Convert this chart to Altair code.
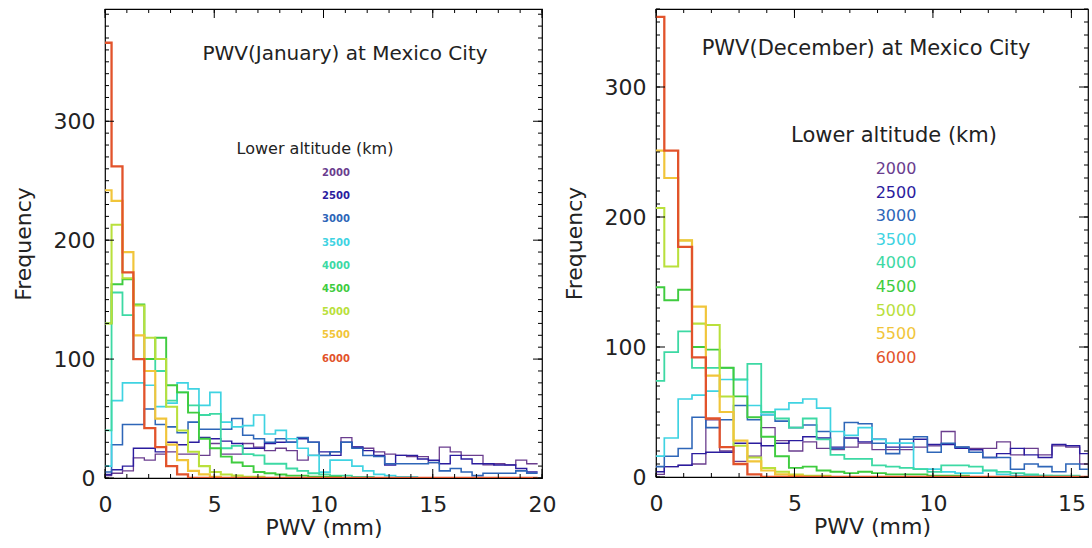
import altair as alt
import pandas as pd

# ---------------- data ----------------
altitudes = ["2000", "2500", "3000", "3500", "4000", "4500", "5000", "5500", "6000"]
colors = ["#6a3d8e", "#2b1c9e", "#2e66b8", "#3fd3e2", "#3dd9a4",
          "#3fcc3f", "#b9e03c", "#f1c53a", "#e2532b"]
widths = [1.3, 2.3, 1.7, 2.3, 1.3, 2.3, 1.3, 2.3, 1.7]

first_edge = 0.3      # first (partial) bin is [0, 0.3]
bin_width = 0.5

jan = {
    "2000": [2, 4, 6, 17, 15, 20, 22, 20, 20, 19, 29, 20, 20, 29, 26, 23, 25, 23, 15, 19,
             19, 22, 34, 26, 25, 22, 20, 19, 18, 18, 13, 26, 22, 19, 19, 11, 12, 11, 15, 12],
    "2500": [3, 7, 10, 25, 25, 22, 30, 28, 30, 34, 33, 31, 29, 25, 25, 29, 30, 30, 33, 30,
             22, 19, 30, 26, 23, 19, 11, 19, 19, 16, 15, 12, 19, 16, 12, 12, 11, 11, 8, 5],
    "3000": [5, 28, 45, 45, 58, 45, 43, 38, 47, 41, 41, 41, 50, 36, 33, 30, 33, 30, 34, 30,
             19, 22, 30, 25, 19, 18, 12, 12, 12, 12, 13, 6, 8, 5, 2, 4, 4, 4, 6, 4],
    "3500": [10, 65, 80, 80, 78, 60, 63, 80, 75, 61, 72, 47, 43, 44, 53, 37, 40, 33, 25, 19,
             5, 15, 15, 10, 6, 3, 2, 1, 1, 0, 0, 0, 0, 0, 0, 0, 0, 0, 0, 0],
    "4000": [40, 156, 137, 100, 100, 90, 65, 72, 61, 53, 54, 25, 27, 20, 19, 12, 12, 8, 6, 4,
             3, 2, 2, 1, 1, 0, 0, 0, 0, 0, 0, 0, 0, 0, 0, 0, 0, 0, 0, 0],
    "4500": [130, 163, 167, 146, 100, 118, 78, 72, 55, 33, 25, 18, 13, 10, 5, 4, 3, 2, 2, 1,
             1, 1, 0, 0, 0, 0, 0, 0, 0, 0, 0, 0, 0, 0, 0, 0, 0, 0, 0, 0],
    "5000": [130, 213, 168, 145, 118, 100, 60, 40, 22, 10, 5, 3, 2, 1, 1, 0, 0, 0, 0, 0,
             0, 0, 0, 0, 0, 0, 0, 0, 0, 0, 0, 0, 0, 0, 0, 0, 0, 0, 0, 0],
    "5500": [242, 233, 190, 120, 90, 50, 28, 15, 6, 3, 1, 0, 0, 0, 0, 0, 0, 0, 0, 0,
             0, 0, 0, 0, 0, 0, 0, 0, 0, 0, 0, 0, 0, 0, 0, 0, 0, 0, 0, 0],
    "6000": [366, 262, 173, 100, 42, 26, 10, 3, 0, 0, 0, 0, 0, 0, 0, 0, 0, 0, 0, 0,
             0, 0, 0, 0, 0, 0, 0, 0, 0, 0, 0, 0, 0, 0, 0, 0, 0, 0, 0, 0],
}

dec = {
    "2000": [2, 8, 9, 10, 44, 20, 12, 16, 38, 28, 20, 27, 22, 21, 23, 26, 21, 21, 21, 23,
             24, 35, 23, 22, 22, 27, 17, 22, 17, 24, 23, 10],
    "2500": [4, 8, 9, 18, 19, 19, 26, 26, 24, 26, 28, 31, 30, 23, 30, 27, 29, 23, 23, 29,
             25, 25, 22, 21, 15, 18, 22, 17, 15, 25, 24, 18],
    "3000": [8, 16, 22, 46, 38, 44, 55, 44, 48, 43, 38, 40, 35, 22, 42, 41, 26, 18, 29, 31,
             19, 26, 23, 19, 15, 15, 6, 10, 8, 4, 10, 6],
    "3500": [16, 30, 60, 63, 66, 75, 75, 55, 48, 52, 57, 60, 53, 35, 32, 38, 29, 26, 26, 6,
             6, 4, 3, 3, 5, 2, 1, 1, 1, 0, 0, 0],
    "4000": [74, 96, 112, 84, 84, 84, 75, 87, 50, 45, 38, 45, 29, 17, 14, 14, 9, 8, 7, 6,
             4, 9, 9, 8, 5, 4, 3, 2, 1, 1, 1, 0],
    "4500": [146, 136, 144, 100, 98, 84, 62, 46, 31, 16, 7, 8, 5, 4, 3, 4, 3, 2, 2, 2,
             1, 1, 1, 0, 0, 0, 0, 0, 0, 0, 0, 0],
    "5000": [207, 162, 182, 118, 117, 62, 24, 15, 7, 4, 2, 1, 1, 0, 0, 0, 0, 0, 0, 0,
             0, 0, 0, 0, 0, 0, 0, 0, 0, 0, 0, 0],
    "5500": [251, 230, 182, 131, 78, 50, 28, 12, 5, 2, 1, 0, 0, 0, 0, 0, 0, 0, 0, 0,
             0, 0, 0, 0, 0, 0, 0, 0, 0, 0, 0, 0],
    "6000": [354, 251, 177, 92, 45, 23, 10, 2, 0, 0, 0, 0, 0, 0, 0, 0, 0, 0, 0, 0,
             0, 0, 0, 0, 0, 0, 0, 0, 0, 0, 0, 0],
}

x_ticks_major_jan = [0, 5, 10, 15, 20]
x_ticks_major_dec = [0, 5, 10, 15]
y_ticks_major = [0, 100, 200, 300]

FONT = "DejaVu Sans"
TXT = "#222222"


def step_table(series):
    rows = []
    for name in altitudes:
        vals = series[name]
        edges = [0.0] + [first_edge + bin_width * k for k in range(len(vals))]
        for k, v in enumerate(vals):
            rows.append({"alt": name, "x": edges[k], "y": v})
        rows.append({"alt": name, "x": edges[len(vals)], "y": vals[-1]})
    return pd.DataFrame(rows)


def panel(series, xmax, ymax, W, H, month, xmajor, title_pos, sub_pos, leg_pos,
          title_size, sub_size, leg_size, leg_step, leg_weight):
    xs = alt.Scale(domain=[0, xmax], nice=False, zero=False)
    ys = alt.Scale(domain=[0, ymax], nice=False, zero=False)
    cs = alt.Scale(domain=altitudes, range=colors)
    ws = alt.Scale(domain=altitudes, range=widths)

    xaxis = alt.Axis(values=xmajor, ticks=False, domain=False, grid=False,
                     labelFlush=False, labelFontSize=22, labelFont=FONT,
                     labelColor=TXT, labelPadding=16, titleFontSize=22,
                     titleFont=FONT, titleColor=TXT, titleFontWeight="normal",
                     titlePadding=2, format="d")
    yaxis = alt.Axis(values=y_ticks_major, ticks=False, domain=False, grid=False,
                     labelFontSize=22, labelFont=FONT, labelColor=TXT,
                     labelPadding=10, titleFontSize=22, titleFont=FONT,
                     titleColor=TXT, titleFontWeight="normal", titlePadding=18,
                     format="d")

    def X(field):
        return alt.X(f"{field}:Q", scale=xs, title="PWV (mm)", axis=xaxis)

    def Y(field):
        return alt.Y(f"{field}:Q", scale=ys, title="Frequency", axis=yaxis)

    lines = alt.Chart(step_table(series)).mark_line(
        interpolate="step-after", clip=True
    ).encode(
        x=X("x"), y=Y("y"),
        color=alt.Color("alt:N", scale=cs, legend=None),
        strokeWidth=alt.StrokeWidth("alt:N", scale=ws, legend=None),
    )

    layers = [lines]

    # inward IDL-style ticks
    xminor = pd.DataFrame({"x": list(range(0, int(xmax) + 1))})
    xmaj = pd.DataFrame({"x": xmajor})
    yminor = pd.DataFrame({"y": list(range(0, int(ymax) + 1, 10))})
    ymaj = pd.DataFrame({"y": y_ticks_major})
    for df, L in ((xminor, 4), (xmaj, 9)):
        base = alt.Chart(df).mark_rule(color="black", strokeWidth=1)
        layers.append(base.encode(x=X("x"), y=alt.value(H), y2=alt.value(H - L)))
        layers.append(base.encode(x=X("x"), y=alt.value(0), y2=alt.value(L)))
    for df, L in ((yminor, 4), (ymaj, 9)):
        base = alt.Chart(df).mark_rule(color="black", strokeWidth=1)
        layers.append(base.encode(y=Y("y"), x=alt.value(0), x2=alt.value(L)))
        layers.append(base.encode(y=Y("y"), x=alt.value(W), x2=alt.value(W - L)))

    one = pd.DataFrame({"a": [0]})
    layers.append(alt.Chart(one).mark_text(
        text=f"PWV({month}) at Mexico City", font=FONT, fontSize=title_size, color=TXT
    ).encode(x=alt.value(title_pos[0]), y=alt.value(title_pos[1])))
    layers.append(alt.Chart(one).mark_text(
        text="Lower altitude (km)", font=FONT, fontSize=sub_size, color=TXT
    ).encode(x=alt.value(sub_pos[0]), y=alt.value(sub_pos[1])))
    for i, name in enumerate(altitudes):
        layers.append(alt.Chart(one).mark_text(
            text=name, font=FONT, fontSize=leg_size, color=colors[i], fontWeight=leg_weight
        ).encode(x=alt.value(leg_pos[0]), y=alt.value(leg_pos[1] + i * leg_step)))

    return alt.layer(*layers).properties(width=W, height=H)


left = panel(jan, 20, 394.4, 437, 469, "January", x_ticks_major_jan,
             (240, 45), (210, 140), (231, 164), 20, 16, 10, 23.2, "bold")
right = panel(dec, 15.6, 360, 432, 468, "December", x_ticks_major_dec,
              (210, 40), (238, 127), (240, 160), 21, 21, 16, 23.6, "normal")

chart = alt.hconcat(left, right, spacing=5).properties(
    padding={"left": 11, "top": 7, "right": 0, "bottom": 0},
    background="white",
).configure_view(stroke="black", strokeWidth=1.2)

chart.save("out.html", embed_options={"renderer": "svg", "actions": False})
